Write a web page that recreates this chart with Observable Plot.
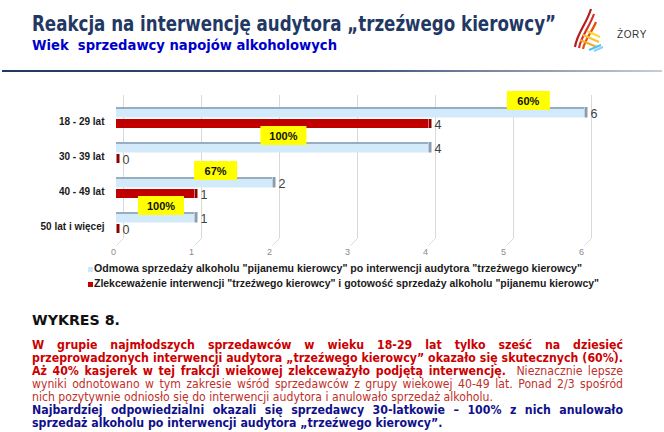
<!DOCTYPE html>
<html><head><meta charset="utf-8">
<script src="https://cdn.jsdelivr.net/npm/d3@7"></script>
<script src="https://cdn.jsdelivr.net/npm/@observablehq/plot@0.6"></script>
<style>
html,body{margin:0;padding:0;background:#fff;}
body{width:664px;height:432px;position:relative;overflow:hidden;font-family:"Liberation Sans",Arial,sans-serif;}
.abs{position:absolute;white-space:nowrap;transform-origin:0 0;}
.narrow{font-family:"Liberation Sans Narrow","DejaVu Sans Condensed","Liberation Sans",sans-serif;font-weight:bold;}
#title{left:32px;top:13px;font-size:22px;line-height:22px;color:#1f3864;}
#subtitle{left:32px;top:38px;font-size:14px;line-height:14px;color:#0000cc;}
#sep{position:absolute;left:2px;top:70px;width:660px;height:2px;background:linear-gradient(to right,#22395e 0%,#3d5478 55%,#c9ced6 100%);}
#logoText{left:617px;top:30px;font-size:10px;line-height:10px;color:#333;letter-spacing:0.6px;}
#chart{position:absolute;left:0;top:74px;}
.leg{position:absolute;left:94px;font-size:10px;line-height:10px;font-weight:bold;color:#1a1a1a;white-space:nowrap;transform-origin:0 0;}
.sw{position:absolute;left:88px;width:5px;height:5px;}
#wykres{left:32px;top:313px;font-family:"DejaVu Sans",Verdana,sans-serif;font-weight:bold;font-size:14px;line-height:14px;color:#111;}
#para{position:absolute;left:32px;top:338.5px;font-family:"DejaVu Sans",Verdana,sans-serif;font-size:11.5px;line-height:13px;}
.ln{transform-origin:0 0;height:13px;}
.b{font-weight:bold;}
.red{color:#cc0000;}
.red2{color:#c0302a;}
.blue{color:#10108a;}
</style></head>
<body>
<div id="title" class="abs narrow">Reakcja na interwencję audytora „trzeźwego kierowcy”</div>
<div id="subtitle" class="abs narrow">Wiek&nbsp; sprzedawcy napojów alkoholowych</div>
<svg style="position:absolute;left:570px;top:6px" width="40" height="50" viewBox="570 6 40 50">
  <path d="M575,47 C577,33 586,25 591,9" fill="none" stroke="#b71c1c" stroke-width="2.2"/>
  <path d="M579,48 C581,36 589,28 594,14" fill="none" stroke="#d32f2f" stroke-width="2.2"/>
  <path d="M583,49 C585,39 592,32 596,22" fill="none" stroke="#e65100" stroke-width="2.2"/>
  <path d="M580,40 L597,47" fill="none" stroke="#f9a825" stroke-width="2"/>
  <path d="M583,35 L599,42" fill="none" stroke="#fbc02d" stroke-width="2"/>
  <path d="M587,31 L600,37" fill="none" stroke="#fdd835" stroke-width="2"/>
  <path d="M589,50 L601,45" fill="none" stroke="#4fc3f7" stroke-width="2"/>
  <path d="M594,51 L603,47" fill="none" stroke="#81d4fa" stroke-width="2"/>
</svg>
<div id="logoText" class="abs">ŻORY</div>
<div id="sep"></div>
<div id="chart"></div>
<div class="sw" style="top:266.5px;background:#cfe8f8"></div>
<div class="sw" style="top:281.5px;background:#c00000"></div>
<div id="leg1" class="leg" style="top:264px"></div>
<div id="leg2" class="leg" style="top:279px"></div>
<div id="wykres" class="abs">WYKRES 8.</div>
<div id="para">
  <div class="ln j b red">W grupie najmłodszych sprzedawców w wieku 18-29 lat tylko sześć na dziesięć</div>
  <div class="ln j b red">przeprowadzonych interwencji audytora „trzeźwego kierowcy” okazało się skutecznych (60%).</div>
  <div class="ln j red2"><span class="b red">Aż 40% kasjerek w tej frakcji wiekowej zlekceważyło podjętą interwencję.</span>&nbsp; Nieznacznie lepsze</div>
  <div class="ln j red2">wyniki odnotowano w tym zakresie wśród sprzedawców z grupy wiekowej 40-49 lat. Ponad 2/3 spośród</div>
  <div class="ln red2">nich pozytywnie odniosło się do interwencji audytora i anulowało sprzedaż alkoholu.</div>
  <div class="ln j b blue">Najbardziej odpowiedzialni okazali się sprzedawcy 30-latkowie – 100% z nich anulowało</div>
  <div class="ln b blue">sprzedaż alkoholu po interwencji audytora „trzeźwego kierowcy”.</div>
</div>
<script>
// ---- data ----
const categories = ["18 - 29 lat", "30 - 39 lat", "40 - 49 lat", "50 lat i więcej"];
const refusals = [6, 4, 2, 1];   // Odmowa sprzedaży
const ignored = [4, 0, 1, 0];    // Zlekceważenie interwencji
const shareLabels = ["60%", "100%", "67%", "100%"];
const shareLabelAt = [5.28, 2.14, 1.27, 0.57];
const xTicks = [0, 1, 2, 3, 4, 5, 6];
const seriesNames = [
  "Odmowa sprzedaży alkoholu \"pijanemu kierowcy\" po interwencji audytora \"trzeźwego kierowcy\"",
  "Zlekceważenie interwencji \"trzeźwego kierowcy\" i gotowość sprzedaży alkoholu \"pijanemu kierowcy\""
];

const rows = categories.map((cat, i) => ({cat, refusal: refusals[i], ignored: ignored[i], share: shareLabels[i], at: shareLabelAt[i]}));

const floorSlant = { draw(ctx) { ctx.moveTo(7, -7); ctx.lineTo(0, 0); } };

const chart = Plot.plot({
  width: 664, height: 189,
  marginTop: 21, marginBottom: 18, marginLeft: 116, marginRight: 80,
  style: {background: "transparent", fontFamily: "'Liberation Sans', Arial, sans-serif", overflow: "visible"},
  x: {domain: [0, 6], axis: null},
  y: {domain: categories, axis: null, paddingInner: 0.389, paddingOuter: 0.278, align: 0.5},
  marks: [
    Plot.ruleX(xTicks, {x: d => d, dx: 7, insetBottom: 7, stroke: "#d9d9d9", strokeWidth: 1}),
    Plot.dot(xTicks, {x: d => d, frameAnchor: "bottom", symbol: floorSlant, fill: "none", stroke: "#d9d9d9", strokeWidth: 1}),
    // light-blue series (3D look)
    Plot.barX(rows, {y: "cat", x1: 0, x2: "refusal", insetBottom: 10.5, fill: "#d3eafa"}),
    Plot.barX(rows, {y: "cat", x1: 0, x2: "refusal", insetBottom: 19, fill: "#97adc1"}),
    Plot.tickX(rows, {y: "cat", x: "refusal", insetBottom: 10.5, stroke: "#889db1", strokeWidth: 3, dx: 1.5}),
    // red series
    Plot.barX(rows, {y: "cat", x1: 0, x2: "ignored", insetTop: 12, fill: "#c00000"}),
    Plot.tickX(rows, {y: "cat", x: "ignored", insetTop: 12, stroke: "#8e0000", strokeWidth: 3, dx: 1.5}),
    // value labels
    Plot.text(rows, {y: "cat", x: "refusal", text: d => String(d.refusal), textAnchor: "start", dx: 6, dy: -4, fontSize: 12.5, fill: "#404040"}),
    Plot.text(rows, {y: "cat", x: "ignored", text: d => String(d.ignored), textAnchor: "start", dx: 6, dy: 7, fontSize: 12.5, fill: "#404040"}),
    // yellow share boxes
    Plot.tickX(rows, {y: "cat", x: "at", insetTop: 1, insetBottom: 1, dy: -17, stroke: "#ffff00", strokeWidth: d => d.share.length > 3 ? 46 : 43}),
    Plot.text(rows, {y: "cat", x: "at", text: "share", dy: -17, fontSize: 11, fontWeight: "bold", fill: "#111"}),
    // category labels
    Plot.text(rows, {y: "cat", text: "cat", frameAnchor: "left", textAnchor: "end", dx: -12, dy: 4, fontSize: 10, fontWeight: "bold", fill: "#1a1a1a"}),
    // x tick labels
    Plot.text(xTicks, {x: d => d, text: d => String(d), frameAnchor: "bottom", dy: 9, dx: -3, fontSize: 9, fill: "#8a8a8a"})
  ]
});
document.getElementById("chart").appendChild(chart);

document.getElementById("leg1").textContent = seriesNames[0];
document.getElementById("leg2").textContent = seriesNames[1];

function fit(el, w) {
  const nat = el.getBoundingClientRect().width;
  if (nat > 0) el.style.transform = `scaleX(${w / nat})`;
}
fit(document.getElementById("title"), 524);
fit(document.getElementById("subtitle"), 305);
fit(document.getElementById("leg1"), 488);
fit(document.getElementById("leg2"), 505);
fit(document.getElementById("wykres"), 88);

// paragraph: justified lines
const W = 591;
const lines = [...document.querySelectorAll(".ln")];
lines.forEach(l => { l.style.display = "inline-block"; l.style.whiteSpace = "nowrap"; });
const nat = lines.map(l => l.getBoundingClientRect().width);
const sBold = (W - 1) / nat[1];
const sReg = 461 / nat[4];
lines.forEach((l, i) => {
  const bold = l.classList.contains("b") || i === 2;
  let s = bold ? sBold : sReg;
  if (l.classList.contains("j")) s = Math.min(s, (W - 1) / nat[i]);
  l.style.display = "block";
  l.style.whiteSpace = "normal";
  if (l.classList.contains("j")) {
    l.style.width = (W / s) + "px";
    l.style.textAlign = "justify";
    l.style.textAlignLast = "justify";
  } else {
    l.style.whiteSpace = "nowrap";
  }
  l.style.transform = `scaleX(${s})`;
});
</script>
</body></html>
